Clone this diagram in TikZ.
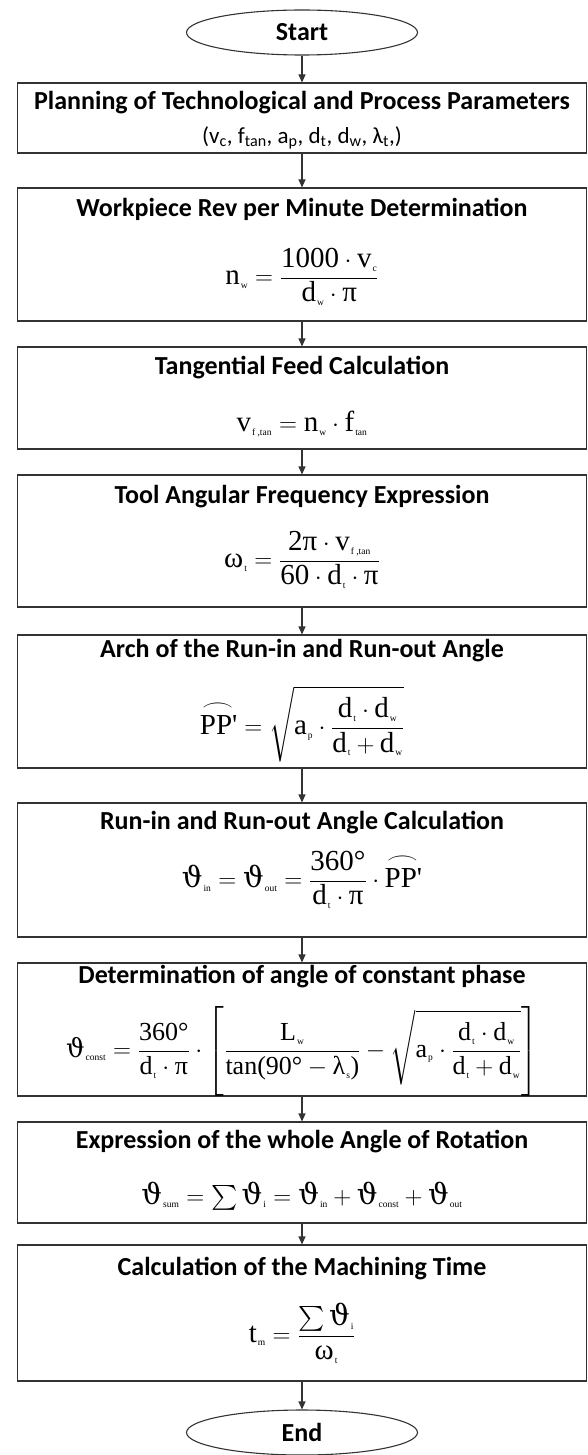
\documentclass[tikz,border=0pt]{standalone}
\usepackage{amsmath}
\usepackage{fontspec}
\setmainfont{Liberation Serif}
\newfontfamily\headfont{Carlito}
\newfontfamily\thetafont{DejaVu Serif}
\usetikzlibrary{shapes.geometric,arrows.meta}

% small lowered indices as in the original formulas
\newcommand{\lo}[1]{_{\text{\fontsize{9.5}{9.5}\selectfont\rmfamily\kern1pt #1}}}
\newcommand{\vth}{\text{\thetafont ϑ}}
\newcommand{\arcpp}{\overset{\scalebox{1.3}[0.8]{$\frown$}}{\text{PP\textquotesingle}}}

\begin{document}
\begin{tikzpicture}[x=1pt,y=-1pt,
  box/.style={draw=black!80,line width=1.1pt,minimum width=569pt,inner sep=0pt},
  term/.style={draw=black!80,line width=1.1pt,ellipse,minimum width=231pt,minimum height=45pt,inner sep=0pt,font=\headfont\bfseries\fontsize{26}{28}\selectfont},
  head/.style={font=\headfont\bfseries\fontsize{26}{28}\selectfont,inner sep=0pt},
  eqn/.style={font=\fontsize{29}{32}\selectfont,inner sep=0pt},
  flow/.style={-{Triangle[length=8pt,width=7pt]},line width=1.1pt,draw=black!80}]

\useasboundingbox (0,0) rectangle (587,1455);

% Terminals
\node[term] (start) at (302,32.5) {Start};
\node[term] (end) at (302,1432.5) {End};

% Parameters
\node[box,minimum height=70pt] (plan) at (302,118) {};
\node[head] (planT) at (302,103) {Planning of Technological and Process Parameters};
\node[inner sep=0pt,font=\headfont\fontsize{23}{25}\selectfont] (planP) at (302,138)
  {(v\textsubscript{c}, f\textsubscript{tan}, a\textsubscript{p}, d\textsubscript{t}, d\textsubscript{w}, λ\textsubscript{t},)};

% Workpiece rev
\node[box,minimum height=133pt] (rev) at (302,254.5) {};
\node[head] (revT) at (302,209) {Workpiece Rev per Minute Determination};
\node[eqn] (revF) at (302,277)
  {$\displaystyle \text{n}\lo{w} = \frac{\text{1000}\cdot\text{v}\lo{c}}{\text{d}\lo{w}\cdot\text{π}}$};

% Tangential feed
\node[box,minimum height=102pt] (feed) at (302,398) {};
\node[head] (feedT) at (302,368) {Tangential Feed Calculation};
\node[eqn] (feedF) at (302,424)
  {$\text{v}\lo{f ,tan} = \text{n}\lo{w}\cdot\text{f}\lo{tan}$};

% Angular frequency
\node[box,minimum height=132pt] (omega) at (302,541) {};
\node[head] (omegaT) at (302,497) {Tool Angular Frequency Expression};
\node[eqn] (omegaF) at (302,560)
  {$\displaystyle \text{ω}\lo{t} = \frac{\text{2π}\cdot\text{v}\lo{f ,tan}}{\text{60}\cdot\text{d}\lo{t}\cdot\text{π}}$};

% Arch
\node[box,minimum height=133pt] (arch) at (302,701.5) {};
\node[head] (archT) at (302,651) {Arch of the Run-in and Run-out Angle};
\node[eqn] (archF) at (302,724)
  {$\displaystyle \arcpp = \sqrt{\text{a}\lo{p}\cdot\frac{\text{d}\lo{t}\cdot\text{d}\lo{w}}{\text{d}\lo{t}+\text{d}\lo{w}}}$};

% Run-in and run-out
\node[box,minimum height=134pt] (runin) at (302,870) {};
\node[head] (runinT) at (302,823) {Run-in and Run-out Angle Calculation};
\node[eqn] (runinF) at (302,880)
  {$\displaystyle \vth\lo{in} = \vth\lo{out} = \frac{\text{360°}}{\text{d}\lo{t}\cdot\text{π}}\cdot\arcpp$};

% Constant phase
\node[box,minimum height=133pt] (const) at (302,1029.5) {};
\node[head] (constT) at (302,977) {Determination of angle of constant phase};
\node[eqn,font=\fontsize{26}{28}\selectfont] (constF) at (302,1051)
  {$\displaystyle \vth\lo{const} = \frac{\text{360°}}{\text{d}\lo{t}\cdot\text{π}}\cdot\left[\frac{\text{L}\lo{w}}{\text{tan(90°}-\text{λ}\lo{s}\text{)}}-\sqrt{\text{a}\lo{p}\cdot\frac{\text{d}\lo{t}\cdot\text{d}\lo{w}}{\text{d}\lo{t}+\text{d}\lo{w}}}\right]$};

% Whole angle
\node[box,minimum height=101pt] (whole) at (302,1172.5) {};
\node[head] (wholeT) at (302,1142) {Expression of the whole Angle of Rotation};
\node[eqn] (wholeF) at (302,1196)
  {$\vth\lo{sum} = \sum\vth\lo{i} = \vth\lo{in} + \vth\lo{const} + \vth\lo{out}$};

% Machining time
\node[box,minimum height=136pt] (time) at (302,1313) {};
\node[head] (timeT) at (302,1269) {Calculation of the Machining Time};
\node[eqn] (timeF) at (302,1333)
  {$\displaystyle \text{t}\lo{m} = \frac{\textstyle\sum\vth\lo{i}}{\text{ω}\lo{t}}$};

% Arrows
\draw[flow] (start) -- (plan);
\draw[flow] (plan) -- (rev);
\draw[flow] (rev) -- (feed);
\draw[flow] (feed) -- (omega);
\draw[flow] (omega) -- (arch);
\draw[flow] (arch) -- (runin);
\draw[flow] (runin) -- (const);
\draw[flow] (const) -- (whole);
\draw[flow] (whole) -- (time);
\draw[flow] (time) -- (end);

\end{tikzpicture}
\end{document}
